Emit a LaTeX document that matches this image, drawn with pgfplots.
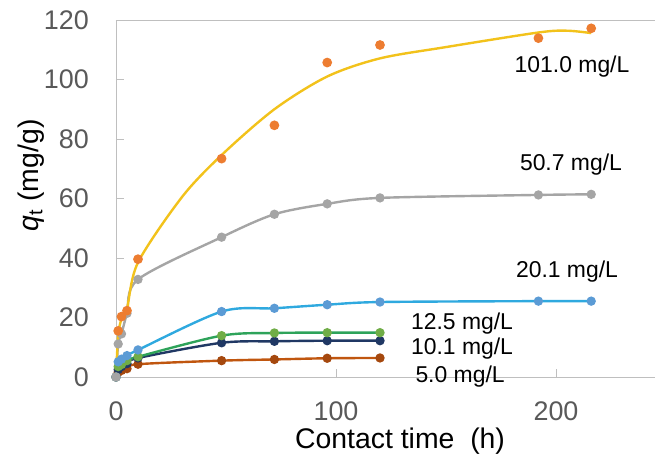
\documentclass[border=0pt]{standalone}
\usepackage{fontspec}
\setmainfont{Liberation Sans}
\usepackage{pgfplots}
\pgfplotsset{compat=1.18}

\definecolor{axisgray}{HTML}{BFBFBF}
\definecolor{ticktext}{HTML}{595959}
\definecolor{fitgold}{HTML}{F2C21B}
\definecolor{dotorange}{HTML}{ED7D31}
\definecolor{midgray}{HTML}{A5A5A5}
\definecolor{skyline}{HTML}{2FA9DF}
\definecolor{skydot}{HTML}{5B9BD5}
\definecolor{greenline}{HTML}{2EA35A}
\definecolor{greendot}{HTML}{70AD47}
\definecolor{navy}{HTML}{203864}
\definecolor{brownline}{HTML}{C0560F}
\definecolor{browndot}{HTML}{A5480E}

\begin{document}
\begin{tikzpicture}
\useasboundingbox (-116bp,-94bp) rectangle (540bp,377bp);
\begin{axis}[
  scale only axis,
  width=539bp, height=357bp,
  xmin=0, xmax=245, ymin=0, ymax=120,
  clip=false,
  axis lines=left,
  axis line style={-, axisgray, line width=0.9bp},
  xtick={0,100,200},
  ytick={0,20,...,120},
  tick align=inside,
  major tick length=8bp,
  tick style={axisgray, line width=0.9bp},
  /pgf/number format/assume math mode=true,
  tick label style={font=\fontsize{27}{30}\selectfont, text=ticktext, inner sep=0pt},
  yticklabel style={anchor=east, xshift=-27bp},
  xticklabel style={anchor=north, yshift=-25bp},
  xlabel={Contact time\ \ (h)},
  ylabel={$\mathit{q}_{\mathrm{t}}$ (mg/g)},
  label style={font=\fontsize{28.5}{30}\selectfont},
  xlabel style={at={(axis description cs:0.527,-0.18)}, anchor=center},
  ylabel style={at={(axis description cs:-0.158,0.565)}, anchor=center},
  every axis plot/.append style={line width=2.4bp},
  mark options={solid},
]
\draw[axisgray, line width=0.9bp] (rel axis cs:0,1) -- (rel axis cs:1,1);

% 5.0 mg/L
\addplot[brownline, smooth, mark=*, mark size=3.4bp, mark options={fill=browndot, draw=browndot}] coordinates {
 (0,0) (1,1.6) (2.5,2.2) (5,2.8) (10,4.3) (48,5.5) (72,5.9) (96,6.3) (120,6.4)};
% 10.1 mg/L
\addplot[navy, smooth, mark=*, mark size=3.4bp, mark options={fill=navy, draw=navy}] coordinates {
 (0,0) (1,2.5) (2.5,3.5) (5,4.5) (10,6.4) (48,11.5) (72,12.0) (96,12.2) (120,12.2)};
% 12.5 mg/L
\addplot[greenline, smooth, mark=*, mark size=3.4bp, mark options={fill=greendot, draw=greendot}] coordinates {
 (0,0) (1,3.5) (2.5,4.2) (5,5.5) (10,6.8) (48,13.9) (72,14.8) (96,14.9) (120,14.9)};
% 20.1 mg/L
\addplot[skyline, smooth, mark=*, mark size=3.4bp, mark options={fill=skydot, draw=skydot}] coordinates {
 (0,0) (1,5.1) (2.5,6.0) (5,7.2) (10,9.1) (48,22.0) (72,23.1) (96,24.3) (120,25.2) (192,25.5) (216,25.5)};
% 50.7 mg/L
\addplot[midgray, smooth, mark=*, mark size=3.4bp, mark options={fill=midgray, draw=midgray}] coordinates {
 (0,0) (1,11.1) (2.5,14.5) (5,21.4) (10,32.8) (48,47.0) (72,54.7) (96,58.2) (120,60.2) (192,61.2) (216,61.4)};
% 101.0 mg/L: fitted curve and measured points
\addplot[fitgold, smooth, no marks] coordinates {
 (0,0) (1,14) (2.5,19.5) (5,23) (10,38.5) (30,60.5) (48,74.6) (72,90.0) (96,101.0) (120,107.1) (150,110.9) (192,115.8) (205,116.4) (216,115.6)};
\addplot[only marks, mark=*, mark size=3.6bp, mark options={fill=dotorange, draw=dotorange}] coordinates {
 (1,15.5) (2.5,20.3) (5,22.3) (10,39.6) (48,73.4) (72,84.6) (96,105.7) (120,111.6) (192,113.9) (216,117.2)};

\begin{scope}[every node/.style={font=\fontsize{23}{25}\selectfont, anchor=center, inner sep=0pt}]
\node at (axis cs:207.3,104.2) {101.0 mg/L};
\node at (axis cs:206.8,71.3) {50.7 mg/L};
\node at (axis cs:205,35.6) {20.1 mg/L};
\node at (axis cs:157.3,18.1) {12.5 mg/L};
\node at (axis cs:157.3,9.6) {10.1 mg/L};
\node at (axis cs:156.4,0.3) {5.0 mg/L};
\end{scope}
\end{axis}
\end{tikzpicture}
\end{document}
